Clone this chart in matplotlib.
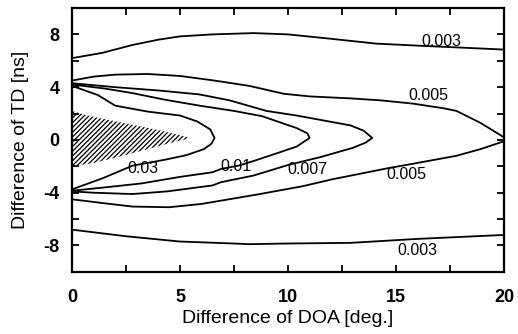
import matplotlib
matplotlib.use("Agg")
import matplotlib.pyplot as plt

# contour lines: (DOA difference [deg], TD difference [ns])
C003_UP_X = [0, 1.4, 2.8, 4, 5, 6.5, 8.4, 10, 11.8, 14.1, 16, 18, 20]
C003_UP_Y = [6.2, 6.6, 7.2, 7.6, 7.85, 8.0, 8.1, 8.0, 7.7, 7.3, 7.15, 7.0, 6.85]
C003_LO_X = [0, 2.5, 5, 7.5, 8.2, 10, 12.9, 16, 18, 20]
C003_LO_Y = [-6.8, -7.3, -7.7, -7.85, -7.9, -7.85, -7.8, -7.5, -7.35, -7.2]

C005_X = [0, 1, 2, 3.5, 5, 6.6, 8.2, 9.8, 11, 12.9, 14.3, 15.8, 17.2, 17.8, 18.9, 20,
          20, 18.9, 17.8, 15.8, 14.6, 12, 10.7, 8.7, 6.9, 6, 4.5, 2.8, 1.5, 0]
C005_Y = [4.5, 4.8, 4.95, 5.0, 4.85, 4.5, 4.1, 3.5, 3.3, 3.15, 3.0, 2.75, 2.4, 2.2, 1.3, 0.2,
          -0.1, -0.7, -1.2, -1.8, -2.15, -3.0, -3.5, -4.1, -4.6, -4.85, -5.1, -5.05, -4.8, -4.5]

C007_X = [0, 2, 4, 5.9, 7.3, 9, 10.4, 12.9, 13.5, 13.9, 13.6, 13, 11.5, 10, 8.4, 6.9,
          6.5, 4.4, 2.8, 1, 0]
C007_Y = [4.3, 4.0, 3.75, 3.45, 3.0, 2.2, 1.85, 1.1, 0.7, 0.15, -0.2, -0.6, -1.3, -1.9, -2.7, -3.2,
          -3.45, -3.9, -4.1, -4.0, -3.9]

C01_X = [0, 1.5, 2.8, 4.3, 5.9, 7.5, 8.8, 10.4, 10.9, 11, 10.4, 9.5, 8.4, 7.7, 6.9, 6.5,
         5, 3.2, 1.5, 0]
C01_Y = [4.2, 3.9, 3.55, 3.05, 2.6, 2.2, 1.8, 0.9, 0.5, 0.15, -0.5, -1.0, -1.6, -1.95, -2.2, -2.45,
         -2.8, -3.3, -3.6, -3.85]

C03_X = [0, 1.2, 2, 3.5, 5, 5.8, 6.4, 6.6, 6.45, 6.1, 5.3, 4.3, 2.8, 1.5, 0]
C03_Y = [4.1, 3.4, 2.6, 2.15, 1.85, 1.4, 0.8, 0.15, -0.3, -0.7, -1.15, -1.5, -1.95, -2.85, -3.75]

# hatched peak region
PEAK_X = [0, 0.5, 1.3, 2.8, 4, 5.4, 5.4, 4.5, 3.5, 2, 1, 0]
PEAK_Y = [2.2, 1.95, 1.65, 1.15, 0.75, 0.2, 0.1, -0.25, -0.7, -1.35, -1.75, -2.0]

# contour labels
LABELS = ["0.003", "0.005", "0.03", "0.01", "0.007", "0.005", "0.003"]
LABEL_X = [17.1, 16.5, 3.3, 7.6, 10.9, 15.5, 16.0]
LABEL_Y = [7.45, 3.35, -2.2, -2.0, -2.25, -2.6, -8.4]

plt.rcParams["font.family"] = ["Liberation Sans", "DejaVu Sans"]
plt.rcParams["hatch.linewidth"] = 0.9
plt.rcParams["hatch.color"] = "black"

fig = plt.figure(figsize=(5.18, 3.34), dpi=100)
ax = fig.add_axes([0.139, 0.186, 0.834, 0.79])

lw = 1.3
ax.plot(C003_UP_X, C003_UP_Y, color="black", lw=lw)
ax.plot(C003_LO_X, C003_LO_Y, color="black", lw=lw)
for xs, ys in [(C005_X, C005_Y), (C007_X, C007_Y), (C01_X, C01_Y), (C03_X, C03_Y)]:
    ax.plot(xs, ys, color="black", lw=lw)

ax.fill(PEAK_X, PEAK_Y, facecolor="none", edgecolor="black", hatch="///////", lw=0)

for s, x, y in zip(LABELS, LABEL_X, LABEL_Y):
    ax.text(x, y, s, ha="center", va="center", fontsize=11.5)

ax.set_xlim(0, 20)
ax.set_ylim(-10, 10)
ax.set_xticks([0, 2.5, 5, 7.5, 10, 12.5, 15, 17.5, 20])
ax.set_xticklabels(["0", "", "5", "", "10", "", "15", "", "20"])
ax.set_yticks([-8, -6, -4, -2, 0, 2, 4, 6, 8])
ax.set_yticklabels(["-8", "", "-4", "", "0", "", "4", "", "8"])
ax.tick_params(direction="in", length=5, width=1.3, top=True, right=True,
               labelsize=13)
ax.tick_params(axis="x", pad=12)
ax.tick_params(axis="y", pad=9)
for lab in ax.get_xticklabels() + ax.get_yticklabels():
    lab.set_fontweight("bold")
for sp in ax.spines.values():
    sp.set_linewidth(1.6)

ax.set_xlabel("Difference of DOA [deg.]", fontsize=14, labelpad=3)
ax.set_ylabel("Difference of TD [ns]", fontsize=14, labelpad=10)

fig.savefig("out.png", dpi=100)
